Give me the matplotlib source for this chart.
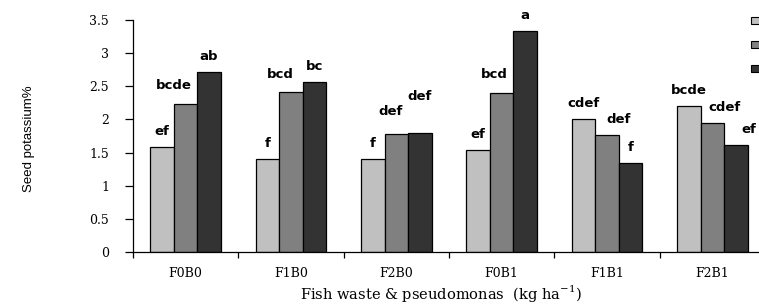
import numpy as np
import matplotlib
matplotlib.use("Agg")
import matplotlib.pyplot as plt
from matplotlib.patches import Patch

groups = ["F0B0", "F1B0", "F2B0", "F0B1", "F1B1", "F2B1"]
light = [1.58, 1.40, 1.40, 1.54, 2.01, 2.20]
mid = [2.24, 2.42, 1.78, 2.40, 1.76, 1.95]
dark = [2.71, 2.56, 1.80, 3.34, 1.34, 1.62]
labels_light = ["ef", "f", "f", "ef", "cdef", "bcde"]
labels_mid = ["bcde", "bcd", "def", "bcd", "def", "cdef"]
labels_dark = ["ab", "bc", "def", "a", "f", "ef"]
yticks = [0, 0.5, 1, 1.5, 2, 2.5, 3, 3.5]

# nudges of the letter labels: x in bar widths, y in data units
dx_mid = [-0.5, -0.43, -0.25, -0.3, 0.5, 0.5]
dx_dark = [0, 0, 0, 0, 0, 0.53]
dy_mid = [0.04, 0.03, 0.1, 0.04, 0, 0]
dy_dark = [0, 0, 0.32, 0, 0, 0]

colors = ["#c0c0c0", "#808080", "#333333"]
serif = "DejaVu Serif"
sans = "DejaVu Sans"

fig = plt.figure(figsize=(7.59, 3.07), dpi=100)
ax = fig.add_axes([0.175, 0.179, 0.833, 0.756])

x = np.arange(len(groups))
w = 0.223
series = [light, mid, dark]
for i, vals in enumerate(series):
    ax.bar(x + (i - 1) * w, vals, w, color=colors[i], edgecolor="black",
           linewidth=0.9, zorder=2)

gap = 0.18
kw = dict(ha="center", va="baseline", fontsize=9.5, fontweight="bold",
          family=sans)
for i in range(len(groups)):
    ax.text(x[i] - w, light[i] + gap, labels_light[i], **kw)
    ax.text(x[i] + dx_mid[i] * w, mid[i] + gap + dy_mid[i], labels_mid[i], **kw)
    ax.text(x[i] + w + dx_dark[i] * w, dark[i] + gap + dy_dark[i],
            labels_dark[i], **kw)

ax.set_xlim(-0.5, len(groups) - 0.5)
ax.set_ylim(0, 3.5)
ax.set_yticks(yticks)
ax.set_yticklabels([f"{t:g}" for t in yticks], family=serif, fontsize=9)
ax.set_xticks(x)
ax.set_xticklabels(groups, family=serif, fontsize=9)
ax.set_xticks(np.arange(-0.5, len(groups), 1.0), minor=True)
ax.tick_params(axis="x", which="major", length=0, pad=11)
ax.tick_params(axis="x", which="minor", length=4, width=0.9, direction="out")
ax.tick_params(axis="y", length=6, width=0.9, pad=11)

for s in ["top", "right"]:
    ax.spines[s].set_visible(False)
ax.spines["left"].set_linewidth(0.9)
ax.spines["bottom"].set_linewidth(0.9)

ax.set_ylabel("Seed potassium%", family="Liberation Sans", fontsize=9.5)
ax.yaxis.set_label_coords(-0.155, 0.49)
ax.set_xlabel(r"Fish waste & pseudomonas  (kg ha$^{\mathregular{-1}}$)",
              family=serif, fontsize=10.5, va="center")
ax.xaxis.set_label_coords(0.487, -0.18)

handles = [Patch(facecolor=c, edgecolor="black", linewidth=0.8) for c in colors]
fig.legend(handles, [" ", " ", " "], loc="upper right",
           bbox_to_anchor=(1.012, 0.96), frameon=False, handlelength=0.8,
           handleheight=0.6, labelspacing=1.25, handletextpad=0.0,
           borderaxespad=0.0, fontsize=8)

fig.savefig("out.png", dpi=100)
